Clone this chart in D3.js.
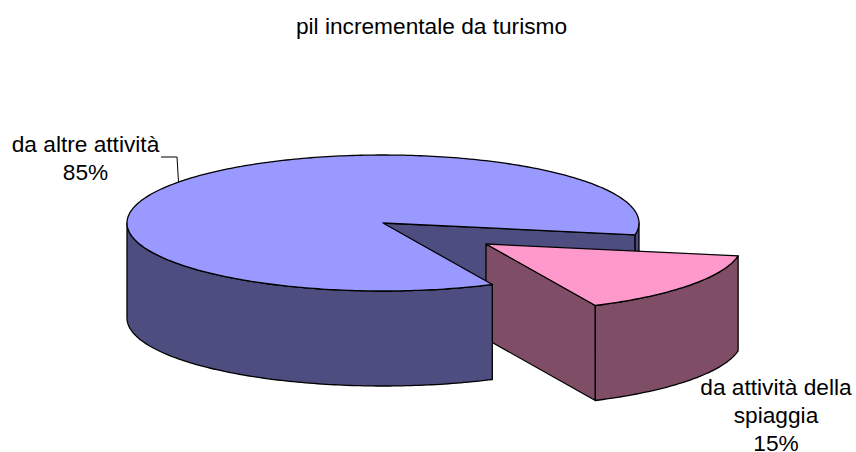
<!DOCTYPE html>
<html><head><meta charset="utf-8">
<script src="https://cdn.jsdelivr.net/npm/d3@7"></script>
<style>html,body{margin:0;padding:0;background:#fff}svg{display:block}text{font-family:"Liberation Sans",Arial,sans-serif;font-size:22.7px;fill:#000}</style>
</head><body><svg id="c" width="856" height="452"></svg>
<script>
const title = "pil incrementale da turismo";
const categories = ["da attività della spiaggia", "da altre attività"];
const values = [15.2, 84.8];
const labelLines = [["da attività della","spiaggia","15%"],["da altre attività","85%"]];
const colorsTop = ["#FF99CC", "#9999FF"];
const colorsSide = ["#804D66", "#4D4D80"];

const cx=383, cy=223, rx=256, ry=68, depth=95, explode={x:103,y:21};
const svg=d3.select("#c");
const pie=d3.pie().sort(null).startAngle(100*Math.PI/180).endAngle((100+360)*Math.PI/180);
const arcs=pie(values);
const pt=(a,o,dz=0)=>[cx+o.x+rx*Math.cos(a-Math.PI/2), cy+o.y+ry*Math.sin(a-Math.PI/2)+dz];
const arcPts=(a0,a1,o,dz=0)=>{const n=Math.max(2,Math.ceil(Math.abs(a1-a0)*60));return d3.range(n+1).map(i=>pt(a0+(a1-a0)*i/n,o,dz));};
const line=d3.line();
const draw=(pts,fill)=>svg.append("path").attr("d",line(pts)+"Z").attr("fill",fill).attr("stroke","#000").attr("stroke-width",1.3).attr("stroke-linejoin","round");
const none={x:0,y:0};
const [pink,blue]=arcs;
const c0=[cx,cy], cE=[cx+explode.x,cy+explode.y];
const TAU=2*Math.PI;
draw([c0,pt(blue.endAngle,none),pt(blue.endAngle,none,depth),[cx,cy+depth]],colorsSide[1]);
draw([...arcPts(blue.endAngle,TAU+Math.PI/2,none),...arcPts(TAU+Math.PI/2,blue.endAngle,none,depth)],colorsSide[1]);
draw([cE,pt(pink.endAngle,explode),pt(pink.endAngle,explode,depth),[cE[0],cE[1]+depth]],colorsSide[0]);
draw([...arcPts(pink.startAngle,pink.endAngle,explode),...arcPts(pink.endAngle,pink.startAngle,explode,depth)],colorsSide[0]);
draw([cE,...arcPts(pink.startAngle,pink.endAngle,explode)],colorsTop[0]);
draw([...arcPts(blue.startAngle,1.5*Math.PI,none),...arcPts(1.5*Math.PI,blue.startAngle,none,depth)],colorsSide[1]);
draw([c0,...arcPts(blue.startAngle,blue.endAngle,none)],colorsTop[1]);
svg.append("path").attr("d",line([[161,157],[177,157],[178.5,182]])).attr("fill","none").attr("stroke","#000").attr("stroke-width",1);
svg.append("text").attr("x",431.5).attr("y",34).attr("text-anchor","middle").text(title);
const label=(lines,x,y,lh)=>lines.forEach((t,i)=>svg.append("text").attr("x",x).attr("y",y+i*lh).attr("text-anchor","middle").text(t));
label(labelLines[1],85.5,152,27.5);
label(labelLines[0],776,394.5,28);
</script></body></html>
